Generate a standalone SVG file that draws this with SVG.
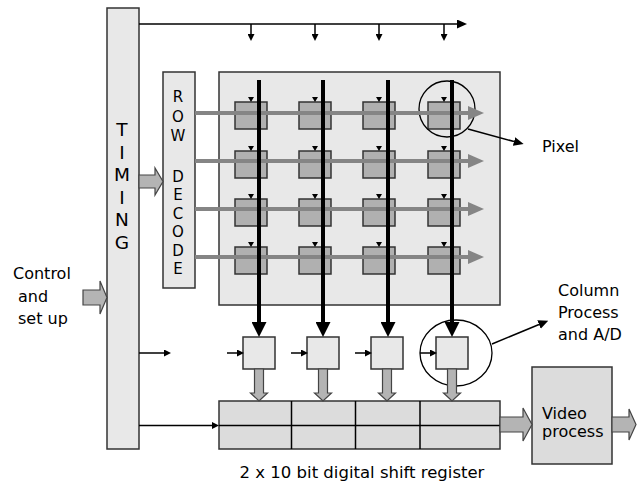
<svg xmlns="http://www.w3.org/2000/svg" xmlns:xlink="http://www.w3.org/1999/xlink" width="642" height="484" viewBox="0 0 642 484">
<style>
.box{fill:#e8e8e8;stroke:#333;stroke-width:1.5}
.reg{fill:#dcdcdc;stroke:#333;stroke-width:1.5}
.pix{fill:#b0b0b0;stroke:#333;stroke-width:1.5}
.thin{stroke:#000;stroke-width:1.5;fill:none}
.col{stroke:#000;stroke-width:4;fill:none}
.row{stroke:#858585;stroke-width:4;fill:none}
.fat{fill:#b4b4b4;stroke:#444;stroke-width:1.2}
.ring{fill:none;stroke:#000;stroke-width:1.3}
text{font-family:"DejaVu Sans","Liberation Sans",sans-serif;font-size:16px;fill:#000}
.big{font-size:18.5px;text-anchor:middle}
.mid{font-size:15px;text-anchor:middle}
.cap{font-size:16.5px;text-anchor:middle}
</style>
<defs>
<marker id="ah" markerUnits="userSpaceOnUse" markerWidth="7" markerHeight="7" refX="0" refY="3.5" orient="auto"><path d="M0,0 L7,3.5 L0,7 z" fill="#000"/></marker>
<marker id="ahL" markerUnits="userSpaceOnUse" markerWidth="10" markerHeight="10" refX="0" refY="4.5" orient="auto"><path d="M0,0 L10,4.5 L0,9 z" fill="#000"/></marker>
<marker id="ahC" markerUnits="userSpaceOnUse" markerWidth="15" markerHeight="15" refX="0" refY="7.5" orient="auto"><path d="M0,0 L15,7.5 L0,15 z" fill="#000"/></marker>
<marker id="ahR" markerUnits="userSpaceOnUse" markerWidth="16" markerHeight="15" refX="0" refY="7" orient="auto"><path d="M0,0 L16,7 L0,14 z" fill="#858585"/></marker>
<path id="tri" d="M-3,-5 H3 L0,0 z" fill="#000"/>
<path id="dn" d="M-4.5,0 H4.5 V24 H8.5 L0,32 L-8.5,24 H-4.5 Z"/>
</defs>

<g id="timing">
<rect class="box" x="107" y="8" width="32" height="441"/>
<text class="big" x="122" y="136">T</text>
<text class="big" x="122" y="158.5">I</text>
<text class="big" x="122" y="181">M</text>
<text class="big" x="122" y="203.5">I</text>
<text class="big" x="122" y="226">N</text>
<text class="big" x="122" y="248.5">G</text>
</g>

<g id="row-decode">
<rect class="box" x="163" y="72" width="32" height="216"/>
<text class="mid" x="178" y="102">R</text>
<text class="mid" x="178" y="121.5">O</text>
<text class="mid" x="178" y="141">W</text>
<text class="mid" x="178" y="181.5">D</text>
<text class="mid" x="178" y="200">E</text>
<text class="mid" x="178" y="218.5">C</text>
<text class="mid" x="178" y="237">O</text>
<text class="mid" x="178" y="255.5">D</text>
<text class="mid" x="178" y="274">E</text>
</g>

<g id="pixel-array">
<rect class="box" x="219" y="72" width="281" height="233"/>
<g id="pixels">
<rect class="pix" x="235" y="102" width="32" height="27"/><rect class="pix" x="299" y="102" width="32" height="27"/><rect class="pix" x="363" y="102" width="32" height="27"/><rect class="pix" x="428" y="102" width="32" height="27"/>
<rect class="pix" x="235" y="151" width="32" height="27"/><rect class="pix" x="299" y="151" width="32" height="27"/><rect class="pix" x="363" y="151" width="32" height="27"/><rect class="pix" x="428" y="151" width="32" height="27"/>
<rect class="pix" x="235" y="199" width="32" height="27"/><rect class="pix" x="299" y="199" width="32" height="27"/><rect class="pix" x="363" y="199" width="32" height="27"/><rect class="pix" x="428" y="199" width="32" height="27"/>
<rect class="pix" x="235" y="247" width="32" height="27"/><rect class="pix" x="299" y="247" width="32" height="27"/><rect class="pix" x="363" y="247" width="32" height="27"/><rect class="pix" x="428" y="247" width="32" height="27"/>
<use xlink:href="#tri" x="251" y="102"/><use xlink:href="#tri" x="315" y="102"/><use xlink:href="#tri" x="379" y="102"/><use xlink:href="#tri" x="444" y="102"/>
<use xlink:href="#tri" x="251" y="151"/><use xlink:href="#tri" x="315" y="151"/><use xlink:href="#tri" x="379" y="151"/><use xlink:href="#tri" x="444" y="151"/>
<use xlink:href="#tri" x="251" y="199"/><use xlink:href="#tri" x="315" y="199"/><use xlink:href="#tri" x="379" y="199"/><use xlink:href="#tri" x="444" y="199"/>
<use xlink:href="#tri" x="251" y="247"/><use xlink:href="#tri" x="315" y="247"/><use xlink:href="#tri" x="379" y="247"/><use xlink:href="#tri" x="444" y="247"/>
</g>
</g>

<g id="column-process">
<rect class="box" x="243" y="337" width="32" height="32"/>
<rect class="box" x="307" y="337" width="32" height="32"/>
<rect class="box" x="371" y="337" width="32" height="32"/>
<rect class="box" x="436" y="337" width="32" height="32"/>
</g>

<g id="shift-register">
<rect class="reg" x="219" y="401" width="281" height="48"/>
<path class="thin" d="M219,425.5 H500 M291.5,401 V449 M355.5,401 V449 M420,401 V449"/>
<text class="cap" x="362" y="478">2 x 10 bit digital shift register</text>
</g>

<g id="video-process">
<rect class="reg" x="532" y="367" width="80" height="97"/>
<text x="542" y="419">Video</text>
<text x="542" y="437">process</text>
</g>

<g id="pixel-label">
<ellipse class="ring" cx="447" cy="109" rx="28" ry="28"/>
<text x="542" y="152">Pixel</text>
</g>

<g id="column-label">
<ellipse class="ring" cx="456" cy="353" rx="36" ry="33"/>
<text x="558" y="296">Column</text>
<text x="558" y="318">Process</text>
<text x="558" y="340">and A/D</text>
</g>

<g id="control-label">
<text x="13" y="279">Control</text>
<text x="18" y="302">and</text>
<text x="18" y="324">set up</text>
</g>

<g id="connectors">
<path class="thin" d="M139,24 H457" marker-end="url(#ahL)"/>
<path class="thin" d="M251,24 V34" marker-end="url(#ah)"/>
<path class="thin" d="M315,24 V34" marker-end="url(#ah)"/>
<path class="thin" d="M379,24 V34" marker-end="url(#ah)"/>
<path class="thin" d="M444,24 V34" marker-end="url(#ah)"/>
<path class="row" d="M195,113 H468" marker-end="url(#ahR)"/>
<path class="row" d="M195,161 H468" marker-end="url(#ahR)"/>
<path class="row" d="M195,209 H468" marker-end="url(#ahR)"/>
<path class="row" d="M195,257 H468" marker-end="url(#ahR)"/>
<path class="col" d="M259,80 V322" marker-end="url(#ahC)"/>
<path class="col" d="M323,80 V322" marker-end="url(#ahC)"/>
<path class="col" d="M388,80 V322" marker-end="url(#ahC)"/>
<path class="col" d="M452,80 V322" marker-end="url(#ahC)"/>
<path class="thin" d="M139,353 H164" marker-end="url(#ah)"/>
<path class="thin" d="M227,353 H237" marker-end="url(#ah)"/>
<path class="thin" d="M291,353 H301" marker-end="url(#ah)"/>
<path class="thin" d="M355,353 H365" marker-end="url(#ah)"/>
<path class="thin" d="M420,353 H430" marker-end="url(#ah)"/>
<path class="thin" d="M139,425.5 H212" marker-end="url(#ah)"/>
<path class="thin" d="M468,129 L514,141.5" marker-end="url(#ahL)"/>
<path class="thin" d="M492,344 L539,324.5" marker-end="url(#ahL)"/>
<use class="fat" xlink:href="#dn" x="259" y="369"/>
<use class="fat" xlink:href="#dn" x="323" y="369"/>
<use class="fat" xlink:href="#dn" x="387" y="369"/>
<use class="fat" xlink:href="#dn" x="452" y="369"/>
<path class="fat" d="M139,175 H155 V168 L163,181.5 L155,195 V188 H139 Z"/>
<path class="fat" d="M83,290 H100 V281 L107,297.5 L100,314 V305 H83 Z"/>
<path class="fat" d="M500,417 H523 V408 L532,424.5 L523,441 V432 H500 Z"/>
<path class="fat" d="M612,417 H629 V409 L636,424.5 L629,440 V432 H612 Z"/>
</g>
</svg>
